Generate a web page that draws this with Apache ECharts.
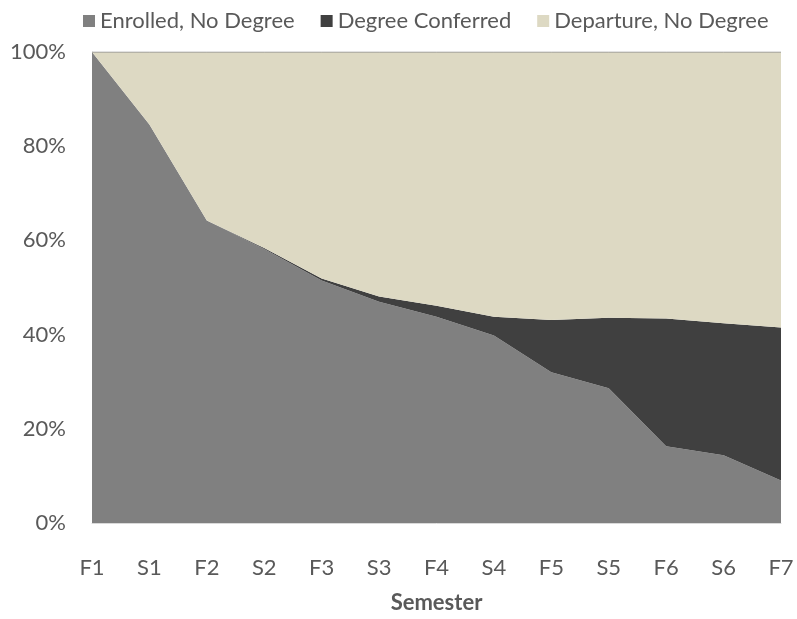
<!DOCTYPE html>
<html>
<head>
<meta charset="utf-8">
<script src="https://cdn.jsdelivr.net/npm/echarts@6/dist/echarts.min.js"></script>
<style>
  html, body { margin: 0; padding: 0; background: #fff; }
  #chartRetention { width: 797px; height: 619px; }
</style>
</head>
<body>
<div id="chartRetention"></div>
<script>
  const semesters = ["F1", "S1", "F2", "S2", "F3", "S3", "F4", "S4", "F5", "S5", "F6", "S6", "F7"];
  const enrolledNoDegree = [100, 84.6, 64.2, 58.2, 51.5, 47.0, 43.8, 39.8, 32.0, 28.6, 16.3, 14.4, 9.0];
  const degreeConferred = [0, 0, 0, 0.2, 0.4, 1.1, 2.3, 4.0, 11.1, 15.0, 27.1, 28.0, 32.5];
  const departureNoDegree = [0, 15.4, 35.8, 41.6, 48.1, 51.9, 53.9, 56.2, 56.9, 56.4, 56.6, 57.6, 58.5];

  const font = "Lato";
  const textColor = "#595959";

  const option = {
    animation: false,
    textStyle: { fontFamily: font },
    legend: {
      left: 78,
      top: 5,
      icon: "rect",
      itemWidth: 12,
      itemHeight: 12,
      itemGap: 26,
      textStyle: { fontSize: 22, color: textColor, fontFamily: font },
      data: ["Enrolled, No Degree", "Degree Conferred", "Departure, No Degree"]
    },
    grid: {
      left: 92,
      right: 16,
      top: 52,
      bottom: 94
    },
    xAxis: {
      type: "category",
      boundaryGap: false,
      data: semesters,
      name: "Semester",
      nameLocation: "middle",
      nameGap: 69,
      nameTextStyle: { fontSize: 22, fontWeight: "bold", color: textColor, fontFamily: font },
      axisLine: { lineStyle: { color: "#d9d9d9" } },
      axisTick: { show: false },
      axisLabel: { fontSize: 22, color: textColor, margin: 34, fontFamily: font }
    },
    yAxis: {
      type: "value",
      min: 0,
      max: 100,
      interval: 20,
      splitLine: { show: false },
      axisLine: { show: true, lineStyle: { color: "#d9d9d9" } },
      axisTick: { show: false },
      axisLabel: { formatter: "{value}%", fontSize: 22, color: textColor, margin: 26, fontFamily: font }
    },
    series: [
      {
        name: "Enrolled, No Degree",
        type: "line",
        stack: "total",
        data: enrolledNoDegree,
        symbol: "none",
        lineStyle: { width: 0 },
        areaStyle: { color: "#808080", opacity: 1 },
        itemStyle: { color: "#808080" }
      },
      {
        name: "Degree Conferred",
        type: "line",
        stack: "total",
        data: degreeConferred,
        symbol: "none",
        lineStyle: { width: 0 },
        areaStyle: { color: "#404040", opacity: 1 },
        itemStyle: { color: "#404040" }
      },
      {
        name: "Departure, No Degree",
        type: "line",
        stack: "total",
        data: departureNoDegree,
        symbol: "none",
        lineStyle: { width: 1, color: "#8c8c8c" },
        areaStyle: { color: "#ddd9c3", opacity: 1 },
        itemStyle: { color: "#ddd9c3" }
      }
    ]
  };

  const chart = echarts.init(document.getElementById("chartRetention"));
  chart.setOption(option);
</script>
</body>
</html>
